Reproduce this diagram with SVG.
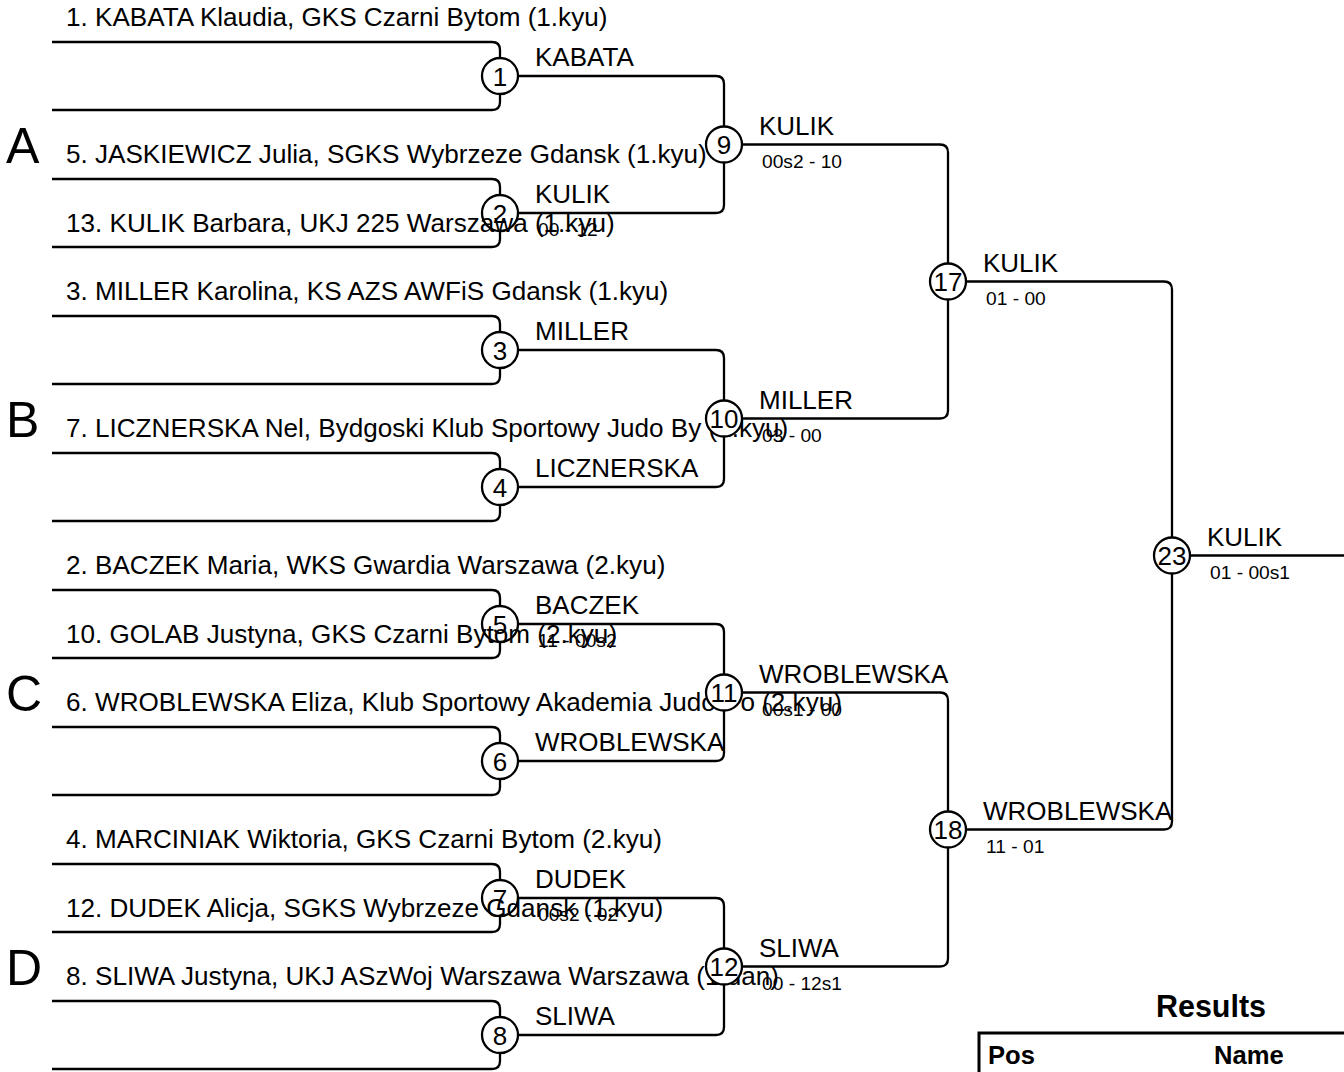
<svg xmlns="http://www.w3.org/2000/svg" width="1344" height="1072" viewBox="0 0 1344 1072">
<style>
text{font-family:"Liberation Sans",Arial,sans-serif;fill:#000}
.ln{fill:none;stroke:#000;stroke-width:2.3}
.c{fill:#fff;stroke:#000;stroke-width:2.3}
.num{font-size:26px;text-anchor:middle}
.nm{font-size:26.1px}
.w{font-size:26px}
.sc{font-size:19.2px}
.grp{font-size:50px}
.hd{font-size:25.6px;font-weight:bold}
.ttl{font-size:30.5px;font-weight:bold;text-anchor:middle}
</style>
<rect width="1344" height="1072" fill="#fff"/>
<g id="connectors">
<path class="ln" d="M52 42H492Q500 42 500 50V102Q500 110 492 110H52"/>
<path class="ln" d="M52 179H492Q500 179 500 187V239Q500 247 492 247H52"/>
<path class="ln" d="M52 316H492Q500 316 500 324V376Q500 384 492 384H52"/>
<path class="ln" d="M52 453H492Q500 453 500 461V513Q500 521 492 521H52"/>
<path class="ln" d="M52 590H492Q500 590 500 598V650Q500 658 492 658H52"/>
<path class="ln" d="M52 727H492Q500 727 500 735V787Q500 795 492 795H52"/>
<path class="ln" d="M52 864H492Q500 864 500 872V924Q500 932 492 932H52"/>
<path class="ln" d="M52 1001H492Q500 1001 500 1009V1061Q500 1069 492 1069H52"/>
<path class="ln" d="M500 76H716Q724 76 724 84V205Q724 213 716 213H500"/>
<path class="ln" d="M500 350H716Q724 350 724 358V479Q724 487 716 487H500"/>
<path class="ln" d="M500 624H716Q724 624 724 632V753Q724 761 716 761H500"/>
<path class="ln" d="M500 898H716Q724 898 724 906V1027Q724 1035 716 1035H500"/>
<path class="ln" d="M724 144.5H940Q948 144.5 948 152.5V410.5Q948 418.5 940 418.5H724"/>
<path class="ln" d="M724 692.5H940Q948 692.5 948 700.5V958.5Q948 966.5 940 966.5H724"/>
<path class="ln" d="M948 281.5H1164Q1172 281.5 1172 289.5V821.5Q1172 829.5 1164 829.5H948"/>
<path class="ln" d="M1172 555.5H1344"/>
</g>
<g id="groups">
<text class="grp" x="6" y="163">A</text>
<text class="grp" x="6" y="437">B</text>
<text class="grp" x="6" y="711">C</text>
<text class="grp" x="6" y="985">D</text>
</g>
<g id="m1">
<circle class="c" cx="500" cy="76" r="18"/><text class="num" x="500" y="85.5">1</text>
<text class="nm" x="66" y="26">1. KABATA Klaudia, GKS Czarni Bytom (1.kyu)</text>
<text class="w" x="535" y="66">KABATA</text>
</g>
<g id="m2">
<circle class="c" cx="500" cy="213" r="18"/><text class="num" x="500" y="222.5">2</text>
<text class="nm" x="66" y="163">5. JASKIEWICZ Julia, SGKS Wybrzeze Gdansk (1.kyu)</text>
<text class="nm" x="66" y="232">13. KULIK Barbara, UKJ 225 Warszawa (1.kyu)</text>
<text class="w" x="535" y="203">KULIK</text>
<text class="sc" x="538" y="236">00 - 12</text>
</g>
<g id="m3">
<circle class="c" cx="500" cy="350" r="18"/><text class="num" x="500" y="359.5">3</text>
<text class="nm" x="66" y="300">3. MILLER Karolina, KS AZS AWFiS Gdansk (1.kyu)</text>
<text class="w" x="535" y="340">MILLER</text>
</g>
<g id="m4">
<circle class="c" cx="500" cy="487" r="18"/><text class="num" x="500" y="496.5">4</text>
<text class="nm" x="66" y="437">7. LICZNERSKA Nel, Bydgoski Klub Sportowy Judo By (1.kyu)</text>
<text class="w" x="535" y="477">LICZNERSKA</text>
</g>
<g id="m5">
<circle class="c" cx="500" cy="624" r="18"/><text class="num" x="500" y="633.5">5</text>
<text class="nm" x="66" y="574">2. BACZEK Maria, WKS Gwardia Warszawa (2.kyu)</text>
<text class="nm" x="66" y="643">10. GOLAB Justyna, GKS Czarni Bytom (2.kyu)</text>
<text class="w" x="535" y="614">BACZEK</text>
<text class="sc" x="538" y="647">11 - 00s2</text>
</g>
<g id="m6">
<circle class="c" cx="500" cy="761" r="18"/><text class="num" x="500" y="770.5">6</text>
<text class="nm" x="66" y="711">6. WROBLEWSKA Eliza, Klub Sportowy Akademia Judo Po (2.kyu)</text>
<text class="w" x="535" y="751">WROBLEWSKA</text>
</g>
<g id="m7">
<circle class="c" cx="500" cy="898" r="18"/><text class="num" x="500" y="907.5">7</text>
<text class="nm" x="66" y="848">4. MARCINIAK Wiktoria, GKS Czarni Bytom (2.kyu)</text>
<text class="nm" x="66" y="917">12. DUDEK Alicja, SGKS Wybrzeze Gdansk (1.kyu)</text>
<text class="w" x="535" y="888">DUDEK</text>
<text class="sc" x="538" y="921">00s2 - 02</text>
</g>
<g id="m8">
<circle class="c" cx="500" cy="1035" r="18"/><text class="num" x="500" y="1044.5">8</text>
<text class="nm" x="66" y="985">8. SLIWA Justyna, UKJ ASzWoj Warszawa Warszawa (1.dan)</text>
<text class="w" x="535" y="1025">SLIWA</text>
</g>
<g id="m9">
<circle class="c" cx="724" cy="144.5" r="18"/><text class="num" x="724" y="154">9</text>
<text class="w" x="759" y="134.5">KULIK</text>
<text class="sc" x="762" y="167.5">00s2 - 10</text>
</g>
<g id="m10">
<circle class="c" cx="724" cy="418.5" r="18"/><text class="num" x="724" y="428">10</text>
<text class="w" x="759" y="408.5">MILLER</text>
<text class="sc" x="762" y="441.5">03 - 00</text>
</g>
<g id="m11">
<circle class="c" cx="724" cy="692.5" r="18"/><text class="num" x="724" y="702">11</text>
<text class="w" x="759" y="682.5">WROBLEWSKA</text>
<text class="sc" x="762" y="715.5">00s1 - 00</text>
</g>
<g id="m12">
<circle class="c" cx="724" cy="966.5" r="18"/><text class="num" x="724" y="976">12</text>
<text class="w" x="759" y="956.5">SLIWA</text>
<text class="sc" x="762" y="989.5">00 - 12s1</text>
</g>
<g id="m17">
<circle class="c" cx="948" cy="281.5" r="18"/><text class="num" x="948" y="291">17</text>
<text class="w" x="983" y="271.5">KULIK</text>
<text class="sc" x="986" y="304.5">01 - 00</text>
</g>
<g id="m18">
<circle class="c" cx="948" cy="829.5" r="18"/><text class="num" x="948" y="839">18</text>
<text class="w" x="983" y="819.5">WROBLEWSKA</text>
<text class="sc" x="986" y="852.5">11 - 01</text>
</g>
<g id="m23">
<circle class="c" cx="1172" cy="555.5" r="18"/><text class="num" x="1172" y="565">23</text>
<text class="w" x="1207" y="545.5">KULIK</text>
<text class="sc" x="1210" y="578.5">01 - 00s1</text>
</g>
<g id="results">
<text class="ttl" x="1211" y="1017">Results</text>
<rect x="979" y="1033" width="400" height="100" fill="none" stroke="#000" stroke-width="3"/>
<text class="hd" x="988" y="1064">Pos</text>
<text class="hd" x="1214" y="1064">Name</text>
</g>
</svg>
